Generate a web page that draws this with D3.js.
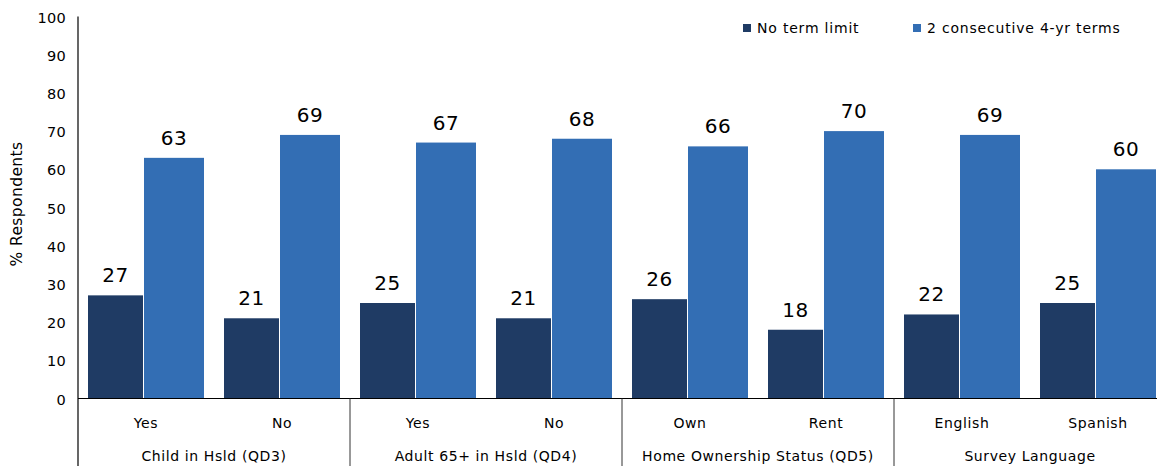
<!DOCTYPE html>
<html>
<head>
<meta charset="utf-8">
<script src="https://cdn.jsdelivr.net/npm/d3@7"></script>
<style>
  html, body { margin: 0; padding: 0; background: #fff; overflow: hidden; }
  svg { display: block; font-family: "DejaVu Sans", sans-serif; }
</style>
</head>
<body>
<svg id="chart" width="1157" height="466"></svg>
<script>
const categories = ["Yes", "No", "Yes", "No", "Own", "Rent", "English", "Spanish"];
const groups = ["Child in Hsld (QD3)", "Adult 65+ in Hsld (QD4)", "Home Ownership Status (QD5)", "Survey Language"];
const seriesNames = ["No term limit", "2 consecutive 4-yr terms"];
const noTermLimit = [27, 21, 25, 21, 26, 18, 22, 25];
const twoTerms = [63, 69, 67, 68, 66, 70, 69, 60];
const yTicks = [0, 10, 20, 30, 40, 50, 60, 70, 80, 90, 100];
const colors = ["#1f3b64", "#336eb4"];

const svg = d3.select("#chart");
const W = 1157, H = 466;
const left = 78, catStep = 136;
const baseY = 398.5, topY = 16.5;

const x = d3.scaleBand().domain(d3.range(categories.length))
  .range([left, left + catStep * categories.length]).padding(0);
const y = d3.scaleLinear().domain([0, 100]).range([baseY, topY]);

// y tick labels
svg.append("g").selectAll("text").data(yTicks).join("text")
  .attr("x", 66).attr("y", d => y(d) + 1)
  .attr("text-anchor", "end").attr("dominant-baseline", "central")
  .attr("font-size", 14.5).attr("letter-spacing", 0.3).attr("fill", "#000")
  .text(d => d);

// y axis title
svg.append("text")
  .attr("transform", "translate(17,204) rotate(-90)")
  .attr("text-anchor", "middle").attr("dominant-baseline", "central")
  .attr("font-size", 15.5).attr("letter-spacing", 0.4).attr("fill", "#000")
  .text("% Respondents");

// bars
const series = [noTermLimit, twoTerms];
const offs = [{o: 10, w: 55}, {o: 66, w: 60}];
series.forEach((vals, si) => {
  const g = svg.append("g");
  g.selectAll("rect").data(vals).join("rect")
    .attr("x", (d, i) => x(i) + offs[si].o)
    .attr("width", offs[si].w)
    .attr("y", d => y(d))
    .attr("height", d => y(0) - y(d))
    .attr("fill", colors[si]);
  g.selectAll("text").data(vals).join("text")
    .attr("x", (d, i) => x(i) + offs[si].o + offs[si].w / 2)
    .attr("y", d => y(d) - 13)
    .attr("text-anchor", "middle")
    .attr("font-size", 20).attr("letter-spacing", 0.6).attr("fill", "#000")
    .text(d => d);
});

// axes lines
svg.append("line").attr("x1", left).attr("x2", left).attr("y1", y(100)).attr("y2", H)
  .attr("stroke", "#000").attr("stroke-width", 1.2);
svg.append("line").attr("x1", left).attr("x2", W).attr("y1", baseY).attr("y2", baseY)
  .attr("stroke", "#000").attr("stroke-width", 1.2);

// group separators
svg.append("g").selectAll("line").data(d3.range(1, groups.length + 1)).join("line")
  .attr("x1", d => x(0) + d * 2 * catStep).attr("x2", d => x(0) + d * 2 * catStep)
  .attr("y1", baseY).attr("y2", H)
  .attr("stroke", "#333").attr("stroke-width", 1);

// category labels
svg.append("g").selectAll("text").data(categories).join("text")
  .attr("x", (d, i) => x(i) + x.bandwidth() / 2)
  .attr("y", 423).attr("text-anchor", "middle").attr("dominant-baseline", "central")
  .attr("font-size", 14).attr("letter-spacing", 0.6).attr("fill", "#000")
  .text(d => d);

// group labels
svg.append("g").selectAll("text").data(groups).join("text")
  .attr("x", (d, i) => x(i * 2) + catStep)
  .attr("y", 456).attr("text-anchor", "middle").attr("dominant-baseline", "central")
  .attr("font-size", 14).attr("letter-spacing", 0.6).attr("fill", "#000")
  .text(d => d);

// legend
const legX = [743, 913];
const leg = svg.append("g").selectAll("g").data(seriesNames).join("g")
  .attr("transform", (d, i) => `translate(${legX[i]},28)`);
leg.append("rect").attr("x", 0).attr("y", -4).attr("width", 8).attr("height", 8)
  .attr("fill", (d, i) => colors[i]);
leg.append("text").attr("x", 14).attr("y", 0).attr("dominant-baseline", "central")
  .attr("font-size", 14).attr("letter-spacing", 0.8).attr("fill", "#000")
  .text(d => d);
</script>
</body>
</html>
